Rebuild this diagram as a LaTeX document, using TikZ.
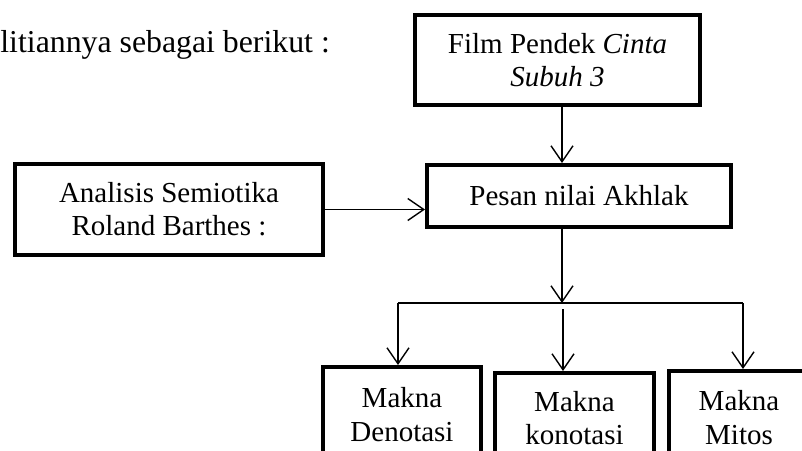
\documentclass[tikz,border=0pt]{standalone}
\usepackage{fontspec}
\setmainfont{Liberation Serif}
\usetikzlibrary{arrows.meta}

\begin{document}
\begin{tikzpicture}[
    x=0.5pt, y=-0.5pt,
    box/.style={draw, line width=2pt, align=center, inner sep=0pt, font=\fontsize{14.5}{16.6}\selectfont},
    arr/.style={-{Straight Barb[length=8pt, width=11pt]}, line width=0.7pt},
    bus/.style={line width=0.9pt},
]
    \useasboundingbox (0,0) rectangle (802,450);
    \clip (0,0) rectangle (802,450);

    % Intro text
    \node[anchor=base west, inner sep=0pt, font=\fontsize{15.9}{18.3}\selectfont] (intro) at (0,52) {litiannya sebagai berikut :};

    % Top boxes
    \node[box, minimum width=142.5pt, minimum height=45pt] (film) at (557.5,60) {Film Pendek \textit{Cinta}\\\textit{Subuh 3}};
    \node[box, minimum width=152pt, minimum height=31pt] (pesan) at (579,196) {Pesan nilai Akhlak};
    \node[box, minimum width=154pt, minimum height=45.5pt] (analisis) at (169,209.5) {Analisis Semiotika\\Roland Barthes :};

    % Bottom boxes
    \node[box, anchor=north, minimum width=79pt, minimum height=47.5pt] (denotasi) at (402,365) {Makna\\Denotasi};
    \node[box, anchor=north, minimum width=79.5pt, minimum height=45pt] (konotasi) at (574.5,371) {Makna\\konotasi};
    \node[box, anchor=north, minimum width=70pt, minimum height=46.5pt] (mitos) at (739,369) {Makna\\Mitos};

    % Branch points
    \coordinate (trunk) at (562,303);
    \coordinate (busL) at (398,303);
    \coordinate (busR) at (743,303);
    \coordinate (midtop) at (563,309);

    % Arrows
    \draw[arr] (film.south -| trunk) -- (pesan.north -| trunk);
    \draw[arr] (analisis.east) -- (analisis.east -| pesan.west);
    \draw[arr] (pesan.south -| trunk) -- (trunk);
    \draw[bus] (busL) -- (busR);
    \draw[arr] (busL) -- (busL |- denotasi.north);
    \draw[arr] (midtop) -- (midtop |- konotasi.north);
    \draw[arr] (busR) -- (busR |- mitos.north);
\end{tikzpicture}
\end{document}
